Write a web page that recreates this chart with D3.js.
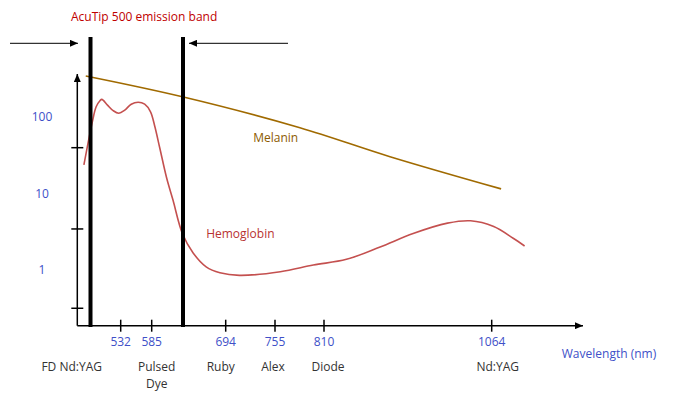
<!DOCTYPE html>
<html>
<head>
<meta charset="utf-8">
<script src="https://cdn.jsdelivr.net/npm/d3@7"></script>
<style>
  body { margin: 0; background: #fff; }
  text { font-family: "Open Sans", sans-serif; font-size: 12px; }
</style>
</head>
<body>
<svg id="chart" width="688" height="399"></svg>
<script>
// absorption (log) vs wavelength (nm)
const hbWavelength = [475, 502, 506, 510, 512, 518, 524, 530, 539, 550, 562, 573, 583, 590, 598, 609, 619, 634, 649, 667, 686, 711, 761, 798, 844, 895, 945, 997, 1032, 1067, 1096, 1113]
const hbAbsorption = [23.6, 87, 136, 163, 170, 143, 121, 112, 123, 147, 156, 147, 117, 75, 39, 15.8, 8.2, 3.0, 1.67, 1.10, 0.92, 0.85, 0.95, 1.16, 1.38, 2.0, 3.0, 4.1, 4.4, 3.7, 2.6, 2.06]

const melWavelength = [482, 634, 783, 910, 1078]
const melAbsorption = [344, 184, 72.5, 30.3, 11.5]

const tickWavelengths = [532, 585, 694, 755, 810, 1064]
const laserNames = [['FD Nd:YAG'], ['Pulsed', 'Dye'], ['Ruby'], ['Alex'], ['Diode'], ['Nd:YAG']]
const laserNudge = [-49, 5, -5, -2, 4, 6]

const yLabelValues = [1, 10, 100]
const yTickValues = [0.316, 3.44, 39.7]

const emissionBand = [500, 635]

const blue = '#4050c8'
const grey = '#333'

const svg = d3.select('#chart')

// the sketch's wavelength axis is not to scale, so it is piecewise
const x = d3.scaleLinear()
  .domain([450, 500, 532, 585, 635, 694, 755, 810, 1064, 1200])
  .range([77.3, 90.5, 120.7, 151.7, 183, 225.7, 275, 324, 491.7, 583])

const y = d3.scaleLog()
  .domain([1, 100])
  .range([270, 117])

const x0 = x(450), x1 = x(1200)
const yBottom = 325.7, yTop = 74

const defs = svg.append('defs')
defs.append('marker')
  .attr('id', 'arrow')
  .attr('viewBox', '0 0 8 7')
  .attr('refX', 8)
  .attr('refY', 3.5)
  .attr('markerWidth', 8)
  .attr('markerHeight', 7)
  .attr('markerUnits', 'userSpaceOnUse')
  .attr('orient', 'auto')
  .append('path')
  .attr('d', 'M0,0 L8,3.5 L0,7 Z')
  .attr('fill', '#000')

// axes
svg.append('line')
  .attr('x1', x0).attr('y1', yBottom)
  .attr('x2', x1).attr('y2', yBottom)
  .attr('stroke', '#000').attr('stroke-width', 1.5)
  .attr('marker-end', 'url(#arrow)')

svg.append('line')
  .attr('x1', x0).attr('y1', yBottom)
  .attr('x2', x0).attr('y2', yTop)
  .attr('stroke', '#000').attr('stroke-width', 1.5)
  .attr('marker-end', 'url(#arrow)')

svg.selectAll('line.xtick')
  .data(tickWavelengths)
  .enter()
  .append('line')
  .attr('class', 'xtick')
  .attr('x1', (d) => x(d)).attr('x2', (d) => x(d))
  .attr('y1', yBottom - 6).attr('y2', yBottom + 6)
  .attr('stroke', '#000').attr('stroke-width', 1.5)

svg.selectAll('line.ytick')
  .data(yTickValues)
  .enter()
  .append('line')
  .attr('class', 'ytick')
  .attr('x1', x0 - 6).attr('x2', x0 + 6)
  .attr('y1', (d) => y(d)).attr('y2', (d) => y(d))
  .attr('stroke', '#000').attr('stroke-width', 1.5)

svg.selectAll('text.xlabel')
  .data(tickWavelengths)
  .enter()
  .append('text')
  .attr('class', 'xlabel')
  .attr('x', (d) => x(d))
  .attr('y', 346)
  .attr('text-anchor', 'middle')
  .attr('fill', blue)
  .text((d) => d)

svg.selectAll('text.ylabel')
  .data(yLabelValues)
  .enter()
  .append('text')
  .attr('class', 'ylabel')
  .attr('x', 42)
  .attr('y', (d) => y(d) + 4)
  .attr('text-anchor', 'middle')
  .attr('fill', blue)
  .text((d) => d)

const laser = svg.selectAll('text.laser')
  .data(tickWavelengths)
  .enter()
  .append('text')
  .attr('class', 'laser')
  .attr('text-anchor', 'middle')
  .attr('fill', grey)

laser.selectAll('tspan')
  .data((d, i) => laserNames[i].map((t) => ({ t, x: x(d) + laserNudge[i] })))
  .enter()
  .append('tspan')
  .attr('x', (s) => s.x)
  .attr('y', (s, j) => 371 + j * 16.5)
  .text((s) => s.t)

svg.append('text')
  .attr('x', 609)
  .attr('y', 357.5)
  .attr('text-anchor', 'middle')
  .attr('fill', blue)
  .text('Wavelength (nm)')

// curves
const line = d3.line()
  .x((d) => x(d[0]))
  .y((d) => y(d[1]))
  .curve(d3.curveCatmullRom)

svg.append('path')
  .attr('d', line(d3.zip(melWavelength, melAbsorption)))
  .attr('fill', 'none')
  .attr('stroke', '#a06a00')
  .attr('stroke-width', 1.6)

svg.append('path')
  .attr('d', line(d3.zip(hbWavelength, hbAbsorption)))
  .attr('fill', 'none')
  .attr('stroke', '#c4504f')
  .attr('stroke-width', 1.6)

svg.append('text')
  .attr('x', x(728)).attr('y', y(53) + 4)
  .attr('fill', '#8c5a00')
  .text('Melanin')

svg.append('text')
  .attr('x', x(667)).attr('y', y(3.0) + 4)
  .attr('fill', '#b83232')
  .text('Hemoglobin')

// emission band
svg.selectAll('line.band')
  .data(emissionBand)
  .enter()
  .append('line')
  .attr('class', 'band')
  .attr('x1', (d) => x(d)).attr('x2', (d) => x(d))
  .attr('y1', 37).attr('y2', 327)
  .attr('stroke', '#000').attr('stroke-width', 4)

svg.append('line')
  .attr('x1', 10).attr('y1', 43.3)
  .attr('x2', x(emissionBand[0]) - 12.5).attr('y2', 43.3)
  .attr('stroke', '#000').attr('stroke-width', 1)
  .attr('marker-end', 'url(#arrow)')

svg.append('line')
  .attr('x1', 288).attr('y1', 43.3)
  .attr('x2', x(emissionBand[1]) + 6).attr('y2', 43.3)
  .attr('stroke', '#000').attr('stroke-width', 1)
  .attr('marker-end', 'url(#arrow)')

svg.append('text')
  .attr('x', 71)
  .attr('y', 20.5)
  .attr('fill', '#c00000')
  .text('AcuTip 500 emission band')
</script>
</body>
</html>
